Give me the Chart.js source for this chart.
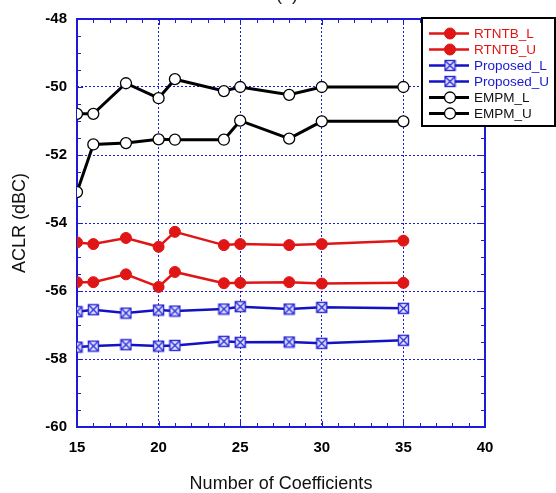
<!DOCTYPE html>
<html lang="en">

<head>
    <meta charset="UTF-8" />
    <title>ACLR vs Number of Coefficients</title>
    <script src="https://cdn.jsdelivr.net/npm/chart.js"></script>
    <style>
        html, body {
            margin: 0;
            padding: 0;
            background: #fff;
        }
    </style>
</head>

<body>
    <canvas id="aclrChart" width="556" height="493"></canvas>

    <script>
        // Number of coefficients (x values)
        const coefs = [15, 16, 18, 20, 21, 24, 25, 28, 30, 35];

        // ACLR in dBc for each method, lower / upper adjacent channel
        const rtntbL = [-54.57, -54.62, -54.44, -54.70, -54.26, -54.65, -54.62, -54.65, -54.62, -54.52];
        const rtntbU = [-55.74, -55.74, -55.51, -55.88, -55.44, -55.77, -55.76, -55.74, -55.78, -55.76];
        const proposedL = [-56.61, -56.55, -56.65, -56.56, -56.59, -56.53, -56.46, -56.53, -56.48, -56.51];
        const proposedU = [-57.65, -57.62, -57.58, -57.62, -57.60, -57.48, -57.51, -57.50, -57.54, -57.45];
        const empmL = [-50.79, -50.79, -49.89, -50.33, -49.77, -50.12, -50.00, -50.23, -50.00, -50.00];
        const empmU = [-53.09, -51.69, -51.65, -51.54, -51.55, -51.55, -50.99, -51.52, -51.01, -51.01];

        const xTicks = [15, 20, 25, 30, 35, 40];
        const yTicks = [-60, -58, -56, -54, -52, -50, -48];

        const axisBlue = '#1c1cd8';
        const red = '#e01515';
        const blue = '#1212c4';
        const FONT = '"Liberation Sans", Arial, sans-serif';

        // square-with-cross marker for the proposed method
        function boxCross() {
            const c = document.createElement('canvas');
            c.width = 13;
            c.height = 13;
            const g = c.getContext('2d');
            g.fillStyle = '#e6e8ff';
            g.strokeStyle = '#2a2ad6';
            g.lineWidth = 1.4;
            g.fillRect(1.5, 1.5, 10, 10);
            g.strokeRect(1.5, 1.5, 10, 10);
            g.beginPath();
            g.moveTo(1.5, 1.5); g.lineTo(11.5, 11.5);
            g.moveTo(11.5, 1.5); g.lineTo(1.5, 11.5);
            g.stroke();
            return c;
        }
        const boxMarker = boxCross();

        const pts = arr => arr.map((v, i) => ({ x: coefs[i], y: v }));

        function series(label, data, kind) {
            const base = { label: label, data: pts(data), showLine: true, tension: 0 };
            if (kind === 'rtntb') {
                return Object.assign(base, {
                    borderColor: red, borderWidth: 2.5, pointStyle: 'circle',
                    pointRadius: 5.5, pointBackgroundColor: red, pointBorderColor: red,
                    pointBorderWidth: 1, textColor: red
                });
            }
            if (kind === 'proposed') {
                return Object.assign(base, {
                    borderColor: blue, borderWidth: 2.5, pointStyle: boxMarker,
                    pointRadius: 6, textColor: '#1818d0'
                });
            }
            return Object.assign(base, {
                borderColor: '#000', borderWidth: 3, pointStyle: 'circle',
                pointRadius: 5.5, pointBackgroundColor: '#fff', pointBorderColor: '#000',
                pointBorderWidth: 1.3, textColor: '#111'
            });
        }

        // blue box frame with inward minor ticks on all sides
        const frameTicks = {
            id: 'frameTicks',
            beforeDatasetsDraw(chart) {
                const { ctx, chartArea: a, scales: { x, y } } = chart;
                ctx.save();
                ctx.strokeStyle = axisBlue;
                ctx.lineWidth = 1;
                ctx.beginPath();
                for (let v = x.min; v <= x.max; v += 1) {
                    const px = Math.round(x.getPixelForValue(v)) + 0.5;
                    const len = v % 5 === 0 ? 6 : 4;
                    ctx.moveTo(px, a.bottom); ctx.lineTo(px, a.bottom - len);
                    ctx.moveTo(px, a.top); ctx.lineTo(px, a.top + len);
                }
                for (let v = y.min; v <= y.max; v += 0.5) {
                    const py = Math.round(y.getPixelForValue(v)) + 0.5;
                    const len = v % 2 === 0 ? 6 : 4;
                    ctx.moveTo(a.left, py); ctx.lineTo(a.left + len, py);
                    ctx.moveTo(a.right, py); ctx.lineTo(a.right - len, py);
                }
                ctx.stroke();
                ctx.lineWidth = 2;
                ctx.strokeRect(a.left, a.top, a.right - a.left, a.bottom - a.top);
                ctx.restore();
            }
        };

        // boxed legend in the top right corner, plus the panel label
        const boxLegend = {
            id: 'boxLegend',
            afterDraw(chart) {
                const ctx = chart.ctx;
                const bx = 422, by = 18, bw = 133, bh = 108;
                ctx.save();
                ctx.fillStyle = '#fff';
                ctx.fillRect(bx, by, bw, bh);
                ctx.strokeStyle = '#000';
                ctx.lineWidth = 2;
                ctx.strokeRect(bx, by, bw, bh);
                ctx.font = '13.5px ' + FONT;
                ctx.textBaseline = 'middle';
                chart.data.datasets.forEach((ds, i) => {
                    const ly = 33.5 + i * 16;
                    ctx.strokeStyle = ds.borderColor;
                    ctx.lineWidth = ds.borderWidth;
                    ctx.beginPath();
                    ctx.moveTo(429, ly);
                    ctx.lineTo(469, ly);
                    ctx.stroke();
                    if (ds.pointStyle instanceof HTMLCanvasElement) {
                        ctx.drawImage(ds.pointStyle, 450 - 6.5, ly - 6.5);
                    } else {
                        ctx.beginPath();
                        ctx.arc(450, ly, ds.pointRadius, 0, Math.PI * 2);
                        ctx.fillStyle = ds.pointBackgroundColor;
                        ctx.fill();
                        ctx.lineWidth = ds.pointBorderWidth;
                        ctx.strokeStyle = ds.pointBorderColor;
                        ctx.stroke();
                    }
                    ctx.fillStyle = ds.textColor;
                    ctx.fillText(ds.label, 474, ly + 0.5);
                });
                ctx.fillStyle = '#222';
                ctx.font = '18px ' + FONT;
                ctx.textAlign = 'center';
                ctx.textBaseline = 'alphabetic';
                ctx.fillText('(a)', 287, 0);
                ctx.restore();
            }
        };

        const ctx = document.getElementById('aclrChart').getContext('2d');

        new Chart(ctx, {
            type: 'scatter',
            data: {
                datasets: [
                    series('RTNTB_L', rtntbL, 'rtntb'),
                    series('RTNTB_U', rtntbU, 'rtntb'),
                    series('Proposed_L', proposedL, 'proposed'),
                    series('Proposed_U', proposedU, 'proposed'),
                    series('EMPM_L', empmL, 'empm'),
                    series('EMPM_U', empmU, 'empm')
                ]
            },
            options: {
                responsive: false,
                animation: false,
                layout: { padding: { left: 0, right: 71, top: 18, bottom: 0 } },
                plugins: {
                    legend: { display: false },
                    tooltip: { enabled: false }
                },
                scales: {
                    x: {
                        type: 'linear',
                        min: 15,
                        max: 40,
                        afterFit: s => { s.height = 66; },
                        afterBuildTicks: s => { s.ticks = xTicks.map(v => ({ value: v })); },
                        grid: { color: axisBlue, lineWidth: 1, drawTicks: false },
                        border: { display: false, dash: [2, 2] },
                        ticks: {
                            autoSkip: false,
                            maxRotation: 0,
                            padding: 12,
                            color: '#000',
                            font: { family: FONT, size: 15, weight: 'bold' }
                        },
                        title: {
                            display: true,
                            text: 'Number of Coefficients',
                            color: '#111',
                            font: { family: FONT, size: 18, lineHeight: 1 },
                            padding: { top: 0, bottom: 0 }
                        }
                    },
                    y: {
                        min: -60,
                        max: -48,
                        afterFit: s => { s.width = 77; },
                        afterBuildTicks: s => { s.ticks = yTicks.map(v => ({ value: v })); },
                        grid: { color: axisBlue, lineWidth: 1, drawTicks: false },
                        border: { display: false, dash: [2, 2] },
                        ticks: {
                            padding: 10,
                            color: '#000',
                            font: { family: FONT, size: 15, weight: 'bold' }
                        },
                        title: {
                            display: true,
                            text: 'ACLR (dBC)',
                            color: '#111',
                            font: { family: FONT, size: 18, lineHeight: 1.2 },
                            padding: { top: 9, bottom: 0 }
                        }
                    }
                }
            },
            plugins: [frameTicks, boxLegend]
        });
    </script>
</body>

</html>
